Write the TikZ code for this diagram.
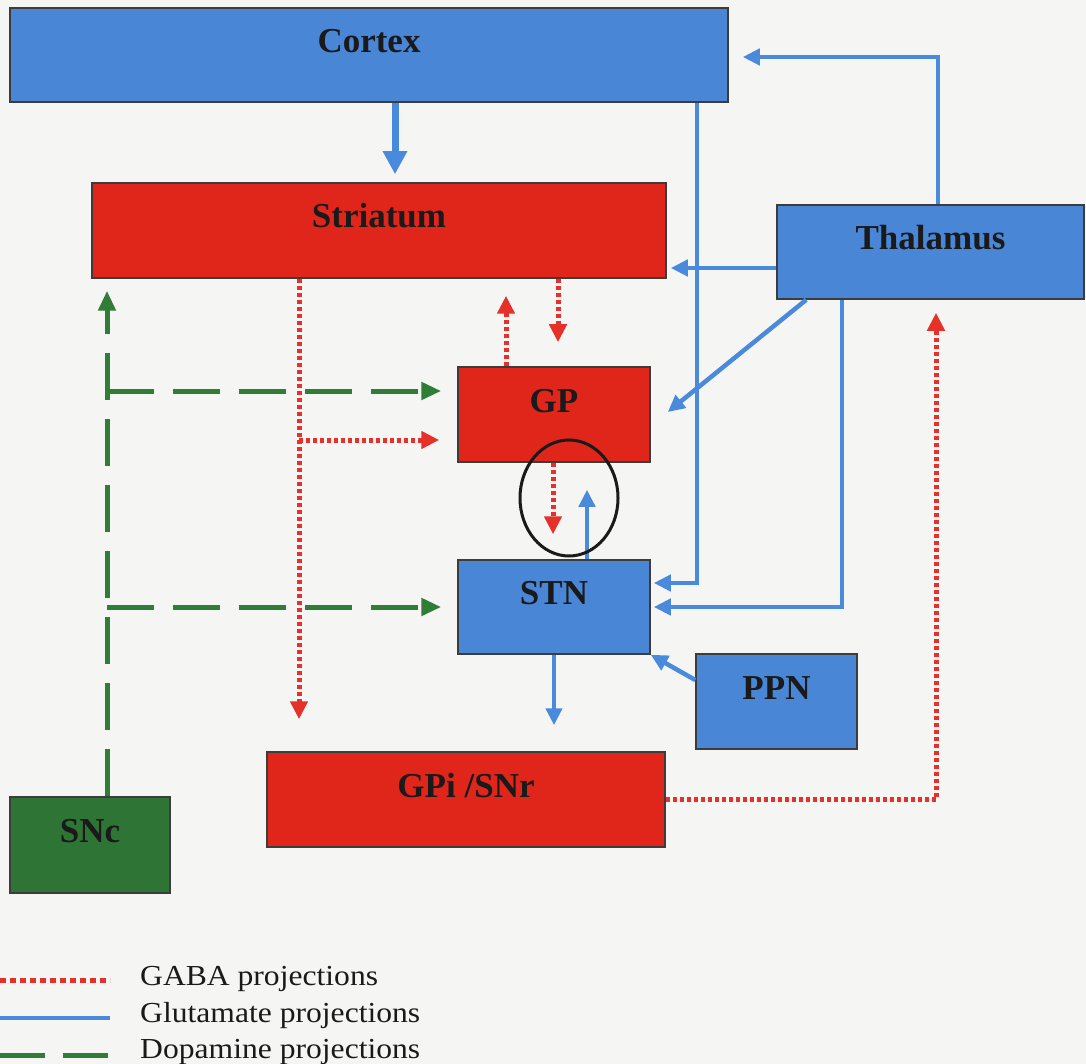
\documentclass[tikz,border=0pt]{standalone}
\usepackage{fontspec}
\setmainfont{Liberation Serif}
\usetikzlibrary{arrows.meta,calc}
\definecolor{bgc}{HTML}{F5F5F3}
\definecolor{boxblue}{HTML}{4A86D6}
\definecolor{boxred}{HTML}{E0261B}
\definecolor{boxgreen}{HTML}{2E7434}
\definecolor{lineblue}{HTML}{4A8ADC}
\definecolor{linered}{HTML}{E6302A}
\definecolor{linegreen}{HTML}{2F7D37}
\definecolor{ink}{HTML}{1A1A1A}
\tikzset{
  box/.style={draw=ink!85, line width=1.5pt, inner sep=0pt, text=ink,
    font=\fontsize{35}{40}\selectfont\bfseries},
  bluebox/.style={box, fill=boxblue},
  redbox/.style={box, fill=boxred},
  greenbox/.style={box, fill=boxgreen},
  glu/.style={draw=lineblue, line width=4.5pt, -{Triangle[length=17pt,width=16pt]}},
  gaba/.style={draw=linered, line width=5pt, dash pattern=on 4pt off 3pt, -{Triangle[length=18pt,width=17pt]}},
  dopa/.style={draw=linegreen, line width=5pt, dash pattern=on 47pt off 19pt, -{Triangle[length=20pt,width=17pt]}},
  legtext/.style={anchor=base west, inner sep=0pt, text=ink, font=\fontsize{29}{32}\selectfont},
}
\newcommand{\lbl}[1]{\raisebox{2.5pt}[0pt][0pt]{#1}}
\newcommand{\legwide}[1]{\scalebox{1.09}[1]{#1}}
\begin{document}
\begin{tikzpicture}[x=1pt,y=-1pt]
\fill[bgc] (0,0) rectangle (1086,1064);
\useasboundingbox (0,0) rectangle (1086,1064);

% boxes
\node[bluebox, minimum width=718pt, minimum height=94pt] (Cortex) at (369,55) {\lbl{Cortex}};
\node[redbox, minimum width=574pt, minimum height=95pt] (Striatum) at (379,230.5) {\lbl{Striatum}};
\node[bluebox, minimum width=307pt, minimum height=94pt] (Thalamus) at (930.5,252) {\lbl{Thalamus}};
\node[redbox, minimum width=192pt, minimum height=95pt] (GP) at (554,414.5) {\lbl{GP}};
\node[bluebox, minimum width=192pt, minimum height=94pt] (STN) at (554,607) {\lbl{STN}};
\node[bluebox, minimum width=161pt, minimum height=95pt] (PPN) at (776.5,701.5) {\lbl{PPN}};
\node[redbox, minimum width=398pt, minimum height=95pt] (GPi) at (466,799.5) {\lbl{GPi /SNr}};
\node[greenbox, minimum width=160pt, minimum height=96pt] (SNc) at (90,845) {\lbl{SNc}};

% glutamate
\draw[draw=lineblue, line width=7pt, -{Triangle[length=23pt,width=23pt]}, shorten >=8pt]
  ([xshift=26pt]Cortex.south) -- ([xshift=16pt]Striatum.north);
\draw[glu, shorten >=14pt] ([xshift=7.5pt]Thalamus.north) |- ([yshift=-2pt]Cortex.east);
\draw[glu, shorten >=3pt] ([xshift=328pt]Cortex.south) |- ([yshift=24pt]STN.east);
\draw[glu, shorten >=4pt] ([yshift=-16pt]Thalamus.west) -- ([yshift=-37.5pt]Striatum.east);
\draw[glu] ([xshift=30pt]Thalamus.south west) -- ([xshift=17pt,yshift=2.5pt]GP.east);
\draw[glu, shorten >=3pt] ([xshift=-88.5pt]Thalamus.south) |- (STN.east);
\draw[glu, shorten >=26pt] (STN.south) -- (STN.south |- GPi.north);
\draw[glu] ([yshift=21.5pt]PPN.west) -- (STN.south east);
\coordinate (stngp) at ([xshift=33pt]STN.north);
\draw[glu, shorten >=27pt] (stngp) -- (stngp |- GP.south);

% GABA
\coordinate (sdrop) at ([xshift=-80pt]Striatum.south);
\draw[gaba, shorten >=32pt] (sdrop) -- (sdrop |- GPi.north);
\coordinate (gpin) at ([yshift=-25.5pt]GP.west);
\draw[gaba, shorten >=18pt] (sdrop |- gpin) -- (gpin);
\coordinate (gpup) at ([xshift=-48pt]GP.north);
\draw[gaba, shorten >=17pt] (gpup) -- (gpup |- Striatum.south);
\coordinate (gpdn) at ([xshift=4pt]GP.north);
\draw[gaba, shorten >=24pt] (gpdn |- Striatum.south) -- (gpdn);
\coordinate (gpstn) at ([xshift=-1pt]GP.south);
\draw[gaba, shorten >=25pt] (gpstn) -- (gpstn |- STN.north);
\coordinate (thin) at ([xshift=5.5pt]Thalamus.south);
\draw[gaba, shorten >=13pt] (GPi.east) -| (thin);

% dopamine
\coordinate (snup) at ([xshift=17pt]SNc.north);
\draw[dopa, shorten >=12pt] (snup) -- (snup |- Striatum.south);
\coordinate (gpg) at ([yshift=23.5pt]GP.west);
\draw[dopa, shorten >=16pt] (snup |- gpg) -- (gpg);
\draw[dopa, shorten >=16pt] (snup |- STN.west) -- (STN.west);

% ellipse
\draw[ink, line width=3pt] (569,498) ellipse [x radius=49pt, y radius=58pt];

% legend
\draw[linered, line width=5pt, dash pattern=on 6pt off 4pt] (0,980) -- (110,980);
\draw[lineblue, line width=4pt] (0,1018) -- (110,1018);
\draw[linegreen, line width=5pt, dash pattern=on 45pt off 18pt] (0,1055) -- (110,1055);
\node[legtext] (lgaba) at (140,985) {\legwide{GABA projections}};
\node[legtext] (lglu) at (140,1022) {\legwide{Glutamate projections}};
\node[legtext] (ldopa) at (140,1058) {\legwide{Dopamine projections}};
\end{tikzpicture}
\end{document}
